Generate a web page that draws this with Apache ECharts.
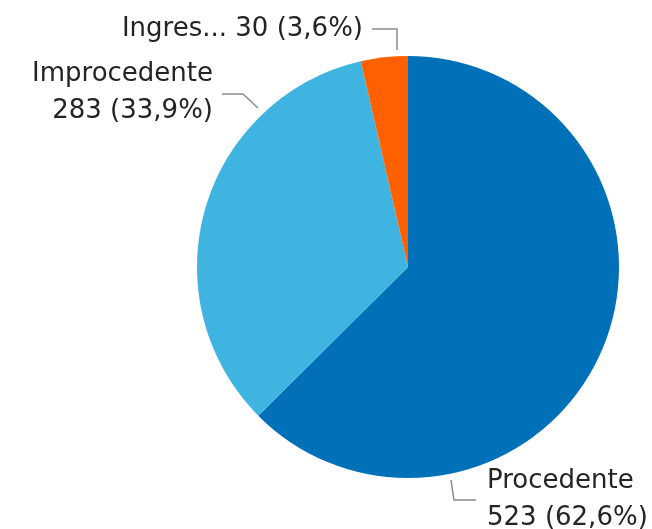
<!DOCTYPE html>
<html>
<head>
<meta charset="utf-8">
<script src="https://cdn.jsdelivr.net/npm/echarts@6/dist/echarts.min.js"></script>
<style>
  html, body { margin: 0; padding: 0; background: #fff; }
  #chart { width: 652px; height: 529px; }
</style>
</head>
<body>
<div id="chart"></div>
<script>
var categories = ['Procedente', 'Improcedente', 'Ingres...'];
var values = [523, 283, 30];
var colors = ['#0070b9', '#3fb4e0', '#ff6000'];

var total = values.reduce(function(a, b){ return a + b; }, 0);
function pct(v){
  return (v / total * 100).toFixed(1).replace('.', ',') + '%';
}

// label anchors: line points + text side, per slice
var labelSpots = [
  { pts: [[451, 480], [454, 500], [476, 500]], x: 487, y: 500, align: 'left' },
  { pts: [[258, 108], [243, 94], [222, 94]], x: 213, y: 93, align: 'right' },
  { pts: [[397, 50], [397, 29], [372, 29]], x: 363, y: 29, align: 'right' }
];

var chart = echarts.init(document.getElementById('chart'));
chart.setOption({
  animation: false,
  series: [{
    type: 'pie',
    center: [408, 267],
    radius: 211,
    startAngle: 90,
    clockwise: true,
    avoidLabelOverlap: false,
    data: categories.map(function(name, i){
      return { name: name, value: values[i], itemStyle: { color: colors[i] } };
    }),
    label: {
      show: true,
      position: 'outside',
      overflow: 'none',
      fontFamily: 'DejaVu Sans',
      fontSize: 26,
      lineHeight: 37,
      color: '#252423',
      formatter: function(p){
        var txt = p.value + ' (' + pct(p.value) + ')';
        if (p.dataIndex == 2) return p.name + ' ' + txt;
        return p.name + '\n' + txt;
      }
    },
    labelLine: {
      show: true,
      lineStyle: { color: '#8a8a8a', width: 1.5 }
    },
    labelLayout: function(params){
      var s = labelSpots[params.dataIndex];
      return {
        x: s.x,
        y: s.y,
        align: s.align,
        verticalAlign: 'middle',
        hideOverlap: false,
        moveOverlap: null,
        labelLinePoints: s.pts
      };
    }
  }]
});
</script>
</body>
</html>
